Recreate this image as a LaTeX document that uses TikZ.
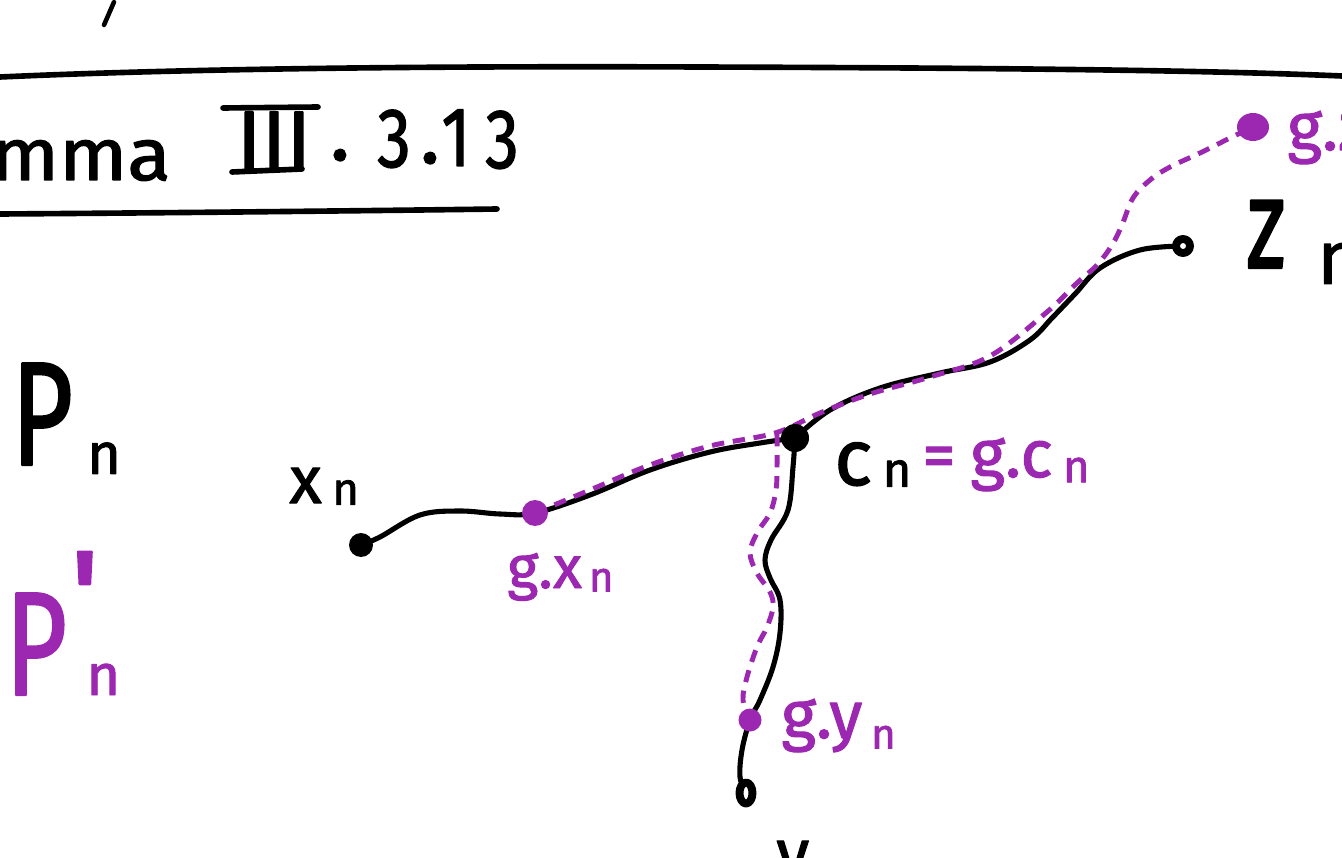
\documentclass[tikz,border=0pt]{standalone}
\usepackage{fontspec}
\usepackage{graphicx}
\setmainfont{Fira Sans}[FakeBold=1.6]
\newfontfamily\libsans{Liberation Sans}[FakeBold=1.6]
\usetikzlibrary{shapes.geometric}
\definecolor{pur}{RGB}{156,39,176}
\newcommand\fs[1]{\fontsize{#1}{#1}\selectfont}
\newcommand\subn[2]{\raisebox{-#2}{\fs{#1}n}}
\pgfdeclarelayer{bg}
\pgfsetlayers{bg,main}
\begin{document}
\begin{tikzpicture}[x=0.02cm,y=-0.02cm,line cap=round,line join=round,
  ink/.style={line width=2.9pt,black},
  rule/.style={line width=3.2pt,black},
  pdash/.style={line width=2.8pt,pur,dash pattern=on 7pt off 5pt},
  lab/.style={inner sep=0pt,anchor=base west},
  bdot/.style={circle,fill=black,inner sep=0pt,minimum size=#1},
  pdot/.style={circle,fill=pur,inner sep=0pt,minimum size=#1},
  ring/.style={circle,draw=black,fill=white,line width=4.5pt,inner sep=0pt,minimum size=#1},
]
\useasboundingbox (0,0) rectangle (1342,858);
\clip (0,0) rectangle (1342,858);

% header strokes
\draw[line width=2.6pt] (104,25) -- (114,2);
\draw[rule] (0,77) .. controls (200,68) and (450,66) .. (700,67) .. controls (1000,68) and (1200,70) .. (1342,76);
\draw[rule] (0,214) .. controls (150,213) and (350,211) .. (497,209);

% title
\node[lab,anchor=base east,font=\fs{42}] (lemma) at (171,180) {\scalebox{1.08}[1]{Lemma}};
\node[lab,anchor=base,font=\fs{48}] (iii) at (274,170) {III};
\draw[rule] (223,108) -- (318,107);
\draw[rule] (232,172) -- (302,169);
\node[lab,anchor=base,font=\fs{48}] (d1) at (340,160) {.};
\node[lab,anchor=base,font=\fs{48}] (d2) at (394,167) {\scalebox{0.8}[1]{3}};
\node[lab,anchor=base,font=\fs{48}] (d3) at (430,163) {.};
\node[lab,anchor=base,font=\fs{48}] (d4) at (456,166) {\scalebox{0.8}[1]{1}};
\node[lab,anchor=base,font=\fs{48}] (d5) at (502,168) {\scalebox{0.8}[1]{3}};

% legend
\node[lab,font=\fs{84}] (pn) at (11,465) {\scalebox{0.72}[1]{P}\hspace{8pt}\subn{33}{5pt}};
\node[lab,font=\fs{84},text=pur] (ppn) at (5,695) {\scalebox{0.72}[1]{P}\hspace{2pt}\rlap{\raisebox{23pt}{\libsans\fs{85}\symbol{39}}}\hspace{9pt}\subn{33}{0pt}};

% points
\node[bdot=0.48cm] (xn) at (361,545) {};
\node[bdot=0.56cm] (cn) at (795,438) {};
\node[ring=0.28cm] (zn) at (1183,246) {};
\node[ellipse,draw=black,fill=white,line width=4.5pt,inner sep=0pt,minimum width=0.26cm,minimum height=0.42cm] (yn) at (746,793) {};
\node[pdot=0.52cm] (gxn) at (535,513) {};
\node[pdot=0.46cm] (gyn) at (750,720) {};
\node[ellipse,fill=pur,inner sep=0pt,minimum width=0.64cm,minimum height=0.56cm] (gzn) at (1253,127) {};
\coordinate (cnp) at (777,434);

\begin{pgfonlayer}{bg}
\draw[ink] plot[smooth,tension=0.6] coordinates {(xn.center) (380,537) (420,515) (460,511) (500,514) (gxn.center) (590,495) (650,470) (710,452) (760,443) (cn.center)};
\draw[ink] plot[smooth,tension=0.6] coordinates {(cn.center) (830,410) (880,388) (940,373) (990,362) (1030,340) (1052,318) (1075,294) (1100,268) (1140,250) (zn.center)};
\draw[ink] plot[smooth,tension=0.6] coordinates {(cn.center) (793,467) (788,510) (771,540) (765,560) (770,578) (780,600) (780,633) (773,667) (760,700) (gyn.center) (742,750) (740,777) (yn.center)};
\draw[pdash] plot[smooth,tension=0.6] coordinates {(gxn.center) (590,490) (650,465) (710,446) (775,433) (820,413) (870,394) (930,377) (990,356) (1047,312) (1077,283) (1097,265) (1112,245) (1122,225) (1133,198) (1150,180) (1170,167) (1200,153) (1230,138) (gzn.center)};
\draw[pdash] plot[smooth,tension=0.6] coordinates {(cnp) (777,467) (776,490) (770,513) (757,533) (750,553) (757,573) (770,592) (773,607) (767,627) (757,647) (747,677) (743,700) (gyn.center)};
\end{pgfonlayer}

% labels
\node[lab,font=\fs{38}] (lxn) at (289,503) {x\hspace{6pt}\subn{26}{1pt}};
\node[lab,font=\fs{34},text=pur] (lgxn) at (507,588) {g.x\hspace{4pt}\subn{24}{2pt}};
\node[lab,font=\fs{45}] (lcn) at (834,485) {c\hspace{6pt}\subn{28}{1pt}};
\node[lab,font=\fs{38},text=pur] (leq) at (922,478) {=};
\node[lab,font=\fs{38},text=pur] (lgcn) at (970,477) {g.c\hspace{6pt}\subn{26}{3pt}};
\node[lab,font=\fs{38},text=pur] (lgyn) at (781,738) {g.y\hspace{5pt}\subn{24}{6pt}};
\node[lab,font=\fs{73}] (lzn) at (1246,268) {\scalebox{0.7}[1]{z}\hspace{18pt}\subn{43}{9pt}};
\node[lab,font=\fs{38},text=pur] (lgzn) at (1287,150) {g.z\subn{26}{3pt}};
\node[lab,font=\fs{38}] (lyn) at (776,876) {y\hspace{5pt}\subn{26}{9pt}};
\end{tikzpicture}
\end{document}
